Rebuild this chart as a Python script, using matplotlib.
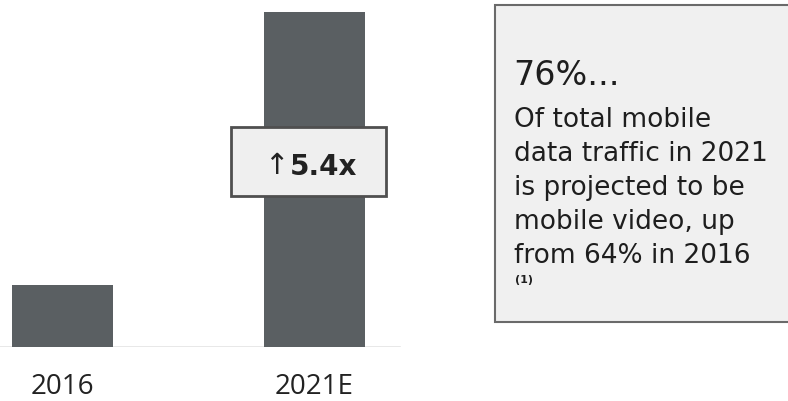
import matplotlib
matplotlib.use("Agg")
import matplotlib.pyplot as plt
from matplotlib.patches import Rectangle

categories = ["2016", "2021E"]
values = [1.0, 5.4]
growth_label = "5.4x"
headline = "76%..."
body_lines = ["Of total mobile", "data traffic in 2021", "is projected to be",
              "mobile video, up", "from 64% in 2016"]
footnote = "(1)"

W, H = 788, 401
plt.rcParams['font.family'] = ['DejaVu Sans']
fig = plt.figure(figsize=(W / 100, H / 100), dpi=100)
fig.patch.set_facecolor("white")

def fx(px):
    return px / W

def fy(py):
    return 1 - py / H

base_px = 347
ax = fig.add_axes([0, fy(base_px), 1, base_px / H])
ax.bar(range(len(categories)), values, width=0.4, color="#5a5f62", zorder=2)
ax.set_xlim(-62.5 / 252, (W - 62.5) / 252)
ax.set_ylim(0, base_px / 62.0)
ax.axhline(0, color="#e4e4e4", lw=1.2, xmax=400 / W, zorder=1)
for s in ax.spines.values():
    s.set_visible(False)
ax.set_yticks([])
ax.set_xticks(range(len(categories)))
ax.set_xticklabels(categories, fontsize=20, color="#222222", family=['Open Sans'])
ax.tick_params(axis="x", length=0, pad=19)
ax.set_facecolor("none")

# growth callout box
fig.patches.append(Rectangle((fx(231), fy(196)), fx(386) - fx(231), (196 - 127) / H,
                             transform=fig.transFigure, facecolor="#efefef",
                             edgecolor="#4f4f4f", lw=2, zorder=5))
fig.text(fx(264), fy(166), "\u2191", fontsize=21, family=['DejaVu Sans'],
         color="#222222", ha="left", va="center", zorder=6)
fig.text(fx(290), fy(167), growth_label, fontsize=20, fontweight="bold",
         color="#222222", ha="left", va="center", zorder=6)

# text box on the right
fig.patches.append(Rectangle((fx(495), fy(322)), fx(800) - fx(495), (322 - 5) / H,
                             transform=fig.transFigure, facecolor="#f0f0f0",
                             edgecolor="#6a6a6a", lw=1.5, zorder=1))
fig.text(fx(513), fy(85), headline, fontsize=24, color="#1e1e1e",
         ha="left", va="baseline")
for i, line in enumerate(body_lines):
    fig.text(fx(514), fy(127 + 34 * i), line, fontsize=19, color="#1e1e1e",
             ha="left", va="baseline")
fig.text(fx(515), fy(283), footnote, fontsize=8, fontweight="bold",
         color="#1e1e1e", ha="left", va="baseline")

fig.savefig("out.png", dpi=100)
